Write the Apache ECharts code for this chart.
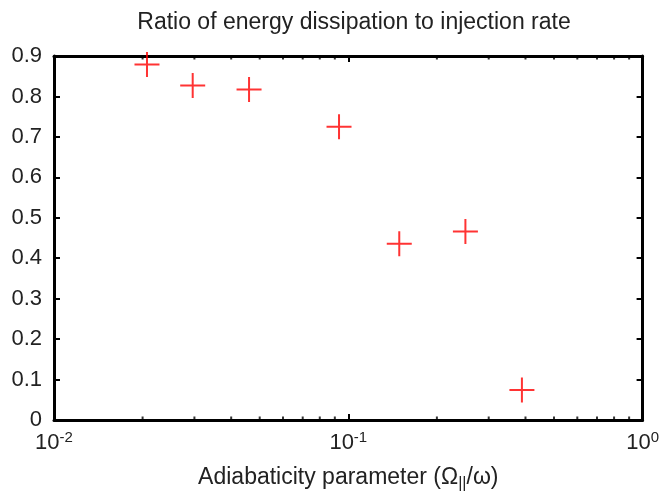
<!DOCTYPE html>
<html>
<head>
<meta charset="utf-8">
<script src="https://cdn.jsdelivr.net/npm/echarts@6/dist/echarts.min.js"></script>
<style>
  html, body { margin: 0; padding: 0; background: #fff; }
  #main { width: 662px; height: 497px; }
</style>
</head>
<body>
<div id="main"></div>
<script>
// data
const adiabaticity = [0.0207, 0.0296, 0.046, 0.093, 0.149, 0.25, 0.389];
const ratio = [0.879, 0.827, 0.817, 0.725, 0.436, 0.466, 0.074];
const yTicks = [0, 0.1, 0.2, 0.3, 0.4, 0.5, 0.6, 0.7, 0.8, 0.9];
// minor log ticks 2..9 of each decade
const minorTicks = [0.02, 0.03, 0.04, 0.05, 0.06, 0.07, 0.08, 0.09,
                    0.2, 0.3, 0.4, 0.5, 0.6, 0.7, 0.8, 0.9];

const FONT = 'Liberation Sans';
const TXT = '#222';

let chartDom = document.getElementById('main');
let myChart = echarts.init(chartDom);

const axisLine = { onZero: false, lineStyle: { color: '#000', width: 3 } };
const axisTick = { show: true, inside: true, length: 6, lineStyle: { color: '#000', width: 2 } };

const option = {
  animation: false,
  title: {
    text: 'Ratio of energy dissipation to injection rate',
    left: 349,
    top: 6,
    textAlign: 'center',
    textStyle: { fontFamily: FONT, fontSize: 23, fontWeight: 'normal', color: TXT }
  },
  grid: { left: 54, right: 19, top: 56, bottom: 75 },
  xAxis: [
    {
      type: 'log',
      logBase: 10,
      min: 0.01,
      max: 1,
      position: 'bottom',
      axisLine: axisLine,
      axisTick: axisTick,
      splitLine: { show: false },
      axisLabel: {
        margin: 10,
        formatter: v => '{b|10}{s|' + Math.round(Math.log10(v)) + '}',
        rich: {
          b: { fontFamily: FONT, fontSize: 22, color: TXT },
          s: { fontFamily: FONT, fontSize: 15, color: TXT, padding: [0, 0, 10, 0] }
        }
      },
      name: '{n|Adiabaticity parameter (Ω}{sub|||}{n|/ω)}',
      nameLocation: 'middle',
      nameGap: 44,
      nameTextStyle: {
        rich: {
          n: { fontFamily: FONT, fontSize: 23, color: TXT },
          sub: { fontFamily: FONT, fontSize: 16, color: TXT, padding: [12, 0, 0, 0] }
        }
      }
    },
    {
      type: 'log',
      logBase: 10,
      min: 0.01,
      max: 1,
      position: 'top',
      axisLine: axisLine,
      axisTick: axisTick,
      axisLabel: { show: false },
      splitLine: { show: false }
    }
  ],
  yAxis: [
    {
      type: 'value',
      min: 0,
      max: 0.9,
      interval: 0.1,
      position: 'left',
      axisLine: { show: true, onZero: false, lineStyle: { color: '#000', width: 3 } },
      axisTick: axisTick,
      splitLine: { show: false },
      axisLabel: {
        margin: 12,
        fontFamily: FONT,
        fontSize: 22,
        color: TXT,
        formatter: v => (v === 0 ? '0' : v.toFixed(1))
      }
    },
    {
      type: 'value',
      min: 0,
      max: 0.9,
      interval: 0.1,
      position: 'right',
      axisLine: { show: true, onZero: false, lineStyle: { color: '#000', width: 3 } },
      axisTick: axisTick,
      splitLine: { show: false },
      axisLabel: { show: false }
    }
  ],
  series: [
    {
      name: 'minor bottom',
      type: 'scatter',
      silent: true,
      symbol: 'rect',
      symbolSize: [2, 3],
      symbolOffset: [0, -2],
      itemStyle: { color: '#000' },
      data: minorTicks.map(x => [x, yTicks[0]])
    },
    {
      name: 'minor top',
      type: 'scatter',
      silent: true,
      symbol: 'rect',
      symbolSize: [2, 3],
      symbolOffset: [0, 2],
      itemStyle: { color: '#000' },
      data: minorTicks.map(x => [x, yTicks[yTicks.length - 1]])
    },
    {
      name: 'ratio',
      type: 'scatter',
      clip: false,
      symbol: 'path://M0,-1L0,1M-1,0L1,0',
      symbolSize: 25,
      itemStyle: { color: 'rgba(0,0,0,0)', borderColor: '#ff0000', borderWidth: 2 },
      data: adiabaticity.map((x, i) => [x, ratio[i]])
    }
  ]
};

myChart.setOption(option);
</script>
</body>
</html>
